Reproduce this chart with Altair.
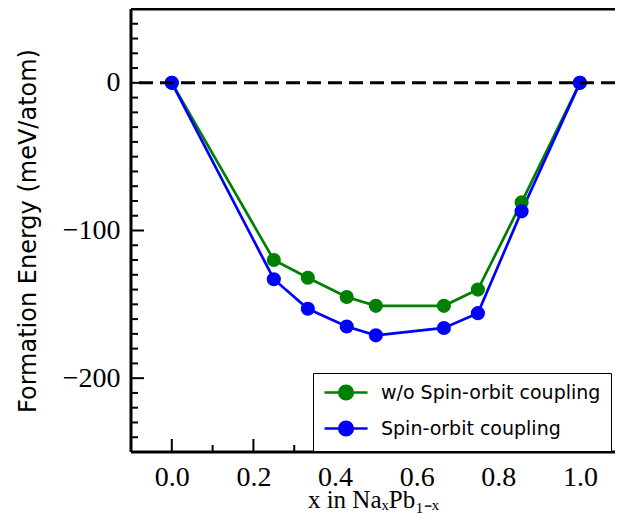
import altair as alt
import pandas as pd

# ---- data ----
x_vals = [0.0, 0.25, 0.3333, 0.4286, 0.5, 0.6667, 0.75, 0.8571, 1.0]
e_no_soc = [0, -120, -132, -145, -151, -151, -140, -81, 0]
e_soc = [0, -133, -153, -165, -171, -166, -156, -87, 0]
series_names = ["w/o Spin-orbit coupling", "Spin-orbit coupling"]
series_colors = ["#008000", "#0000ff"]

x_major = [0.0, 0.2, 0.4, 0.6, 0.8, 1.0]
x_minor = [0.1, 0.3, 0.5, 0.7, 0.9]
y_major = [-200, -100, 0]
y_minor = [-240, -230, -220, -210, -190, -180, -170, -160, -150, -140, -130, -120,
           -110, -90, -80, -70, -60, -50, -40, -30, -20, -10, 10, 20, 30, 40]

W, H = 484, 443
x_dom = [-0.1, 1.086]
y_dom = [-250, 50]

rows = []
for name, ys in zip(series_names, [e_no_soc, e_soc]):
    for xv, yv in zip(x_vals, ys):
        rows.append({"x": xv, "E": yv, "series": name})
df = pd.DataFrame(rows)

xs = alt.Scale(domain=x_dom, nice=False, zero=False)
ys_ = alt.Scale(domain=y_dom, nice=False, zero=False)

x_axis = alt.Axis(
    values=x_major, format=".1f", tickSize=0, domain=False, grid=False,
    labelFont="Liberation Serif", labelFontSize=28, labelColor="black",
    labelPadding=11, labelFlush=False,
    title="x in NaₓPb₁₋ₓ", titleFont="Liberation Serif", titleFontSize=25,
    titleFontWeight="normal", titleColor="black",
    titleBaseline="alphabetic", titleY=55)
y_axis = alt.Axis(
    values=y_major, tickSize=0, domain=False, grid=False,
    labelFont="Liberation Serif", labelFontSize=28, labelColor="black",
    labelPadding=11, labelFlush=False,
    title="Formation Energy (meV/atom)", titleFont="DejaVu Sans",
    titleFontSize=24, titleFontWeight="normal", titleColor="black",
    titlePadding=22)

# legend glyph: line with a dot (symbol unit = 8 px at size 256)
legend_path = ("M-1,0L0.84,0M2.54,0L4.38,0"
               "M2.54,0A0.85,0.85,0,1,1,0.84,0A0.85,0.85,0,1,1,2.54,0Z")

color = alt.Color(
    "series:N",
    scale=alt.Scale(domain=series_names, range=series_colors),
    sort=series_names,
    legend=alt.Legend(
        title=None, orient="none", legendX=182, legendY=364,
        symbolType=legend_path, symbolSize=256, symbolStrokeWidth=2.5,
        labelFont="DejaVu Sans", labelFontSize=19, labelColor="black",
        labelLimit=400, labelOffset=39, rowPadding=11, padding=10,
        strokeColor="black", fillColor="white", cornerRadius=0,
    ),
)

base = alt.Chart(df)

lines = base.mark_line(strokeWidth=2.7).encode(
    x=alt.X("x:Q", scale=xs, axis=x_axis),
    y=alt.Y("E:Q", scale=ys_, axis=y_axis),
    color=color,
    detail="series:N",
)

points = base.mark_point(filled=True, size=200, opacity=1).encode(
    x=alt.X("x:Q", scale=xs, axis=x_axis),
    y=alt.Y("E:Q", scale=ys_, axis=y_axis),
    color=color,
)

zero_df = pd.DataFrame({"E": [0]})
zero_line = alt.Chart(zero_df).mark_rule(
    color="black", strokeWidth=3, strokeDash=[14, 7]
).encode(y=alt.Y("E:Q", scale=ys_, axis=y_axis))

ymaj = alt.Chart(pd.DataFrame({"E": y_major})).mark_rule(
    color="black", strokeWidth=2).encode(
    y=alt.Y("E:Q", scale=ys_, axis=y_axis), x=alt.value(0), x2=alt.value(13))
ymin = alt.Chart(pd.DataFrame({"E": y_minor})).mark_rule(
    color="black", strokeWidth=2).encode(
    y=alt.Y("E:Q", scale=ys_, axis=y_axis), x=alt.value(0), x2=alt.value(7))
xmaj = alt.Chart(pd.DataFrame({"x": x_major})).mark_rule(
    color="black", strokeWidth=2).encode(
    x=alt.X("x:Q", scale=xs, axis=x_axis), y=alt.value(H), y2=alt.value(H - 13))
xmin = alt.Chart(pd.DataFrame({"x": x_minor})).mark_rule(
    color="black", strokeWidth=2).encode(
    x=alt.X("x:Q", scale=xs, axis=x_axis), y=alt.value(H), y2=alt.value(H - 7))

# plot frame (left, top, bottom; the right side lies beyond the picture)
one = pd.DataFrame({"k": [0]})
frame_left = alt.Chart(one).mark_rule(color="black", strokeWidth=3).encode(
    x=alt.value(0), y=alt.value(0), y2=alt.value(H))
frame_top = alt.Chart(one).mark_rule(color="black", strokeWidth=3).encode(
    x=alt.value(0), x2=alt.value(W), y=alt.value(0))
frame_bottom = alt.Chart(one).mark_rule(color="black", strokeWidth=3).encode(
    x=alt.value(0), x2=alt.value(W), y=alt.value(H))

chart = alt.layer(lines, points, zero_line, ymaj, ymin, xmaj, xmin,
                  frame_left, frame_top, frame_bottom).properties(
    width=W, height=H,
    autosize=alt.AutoSizeParams(type="none"),
    padding={"left": 123, "top": 1, "right": 0, "bottom": 62},
).configure(
    background="white"
).configure_view(
    stroke="transparent", strokeWidth=0, fill="white"
)

chart.save("out.html", embed_options={"renderer": "svg", "actions": False})
